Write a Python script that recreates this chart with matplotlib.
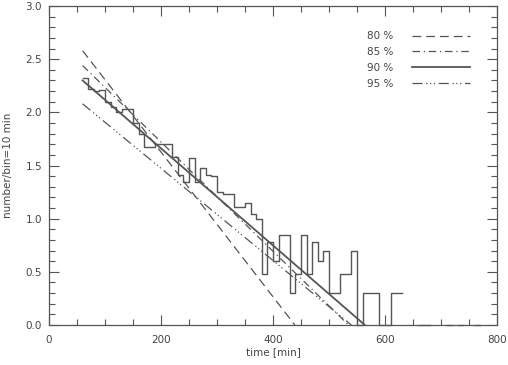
import numpy as np
import matplotlib
matplotlib.use("Agg")
import matplotlib.pyplot as plt
from matplotlib.ticker import MultipleLocator

# histogram: counts per 10-min bin (left edges), plotted as log10(count)
bin_left = np.arange(60, 800, 10)
counts = [209, 166, 158, 162, 126, 112, 100, 107, 107, 79,
          62, 47, 47, 50, 50, 50, 38, 26, 22, 37,
          22, 30, 26, 25, 18, 17, 17, 13, 13, 14,
          11, 10, 3, 6, 4, 7, 7, 2, 3, 7,
          3, 6, 4, 5, 2, 2, 3, 3, 5, 1,
          2, 2, 2, 1, 1, 2, 2, 0, 0, 0,
          1, 1, 0, 0, 0, 1, 0, 1, 0, 0,
          1, 0, 0, 0]
counts = counts + [0] * (len(bin_left) - len(counts))

# fit lines: (start time, start value, end time) -> reach zero at end time
fit_labels = ["80 %", "85 %", "90 %", "95 %"]
fit_t0 = [60, 60, 60, 60]
fit_y0 = [2.58, 2.44, 2.30, 2.08]
fit_t1 = [439, 535, 564, 540]
fit_y1 = [0.0, 0.0, 0.0, 0.0]

fig = plt.figure(figsize=(5.08, 3.65), dpi=100)
ax = fig.add_axes([49 / 508, 40 / 365, 448 / 508, 319 / 365])

c = np.array(counts, dtype=float)
vals = np.full_like(c, np.nan)
vals[c > 0] = np.log10(c[c > 0])
xs = np.append(bin_left, bin_left[-1] + 10)
ys = np.append(vals, vals[-1])
ax.step(xs, ys, where="post", color="#555555", lw=1.0, zorder=4, clip_on=False)

col = "#555555"
styles = [dict(ls=(0, (7, 4)), lw=0.9),
          dict(ls=(0, (6, 3, 1, 3)), lw=0.9),
          dict(ls="-", lw=1.3),
          dict(ls=(0, (8, 3, 1, 2, 1, 2, 1, 3)), lw=0.9)]
handles = []
for lab, t0, y0, t1, y1, st in zip(fit_labels, fit_t0, fit_y0, fit_t1, fit_y1, styles):
    h, = ax.plot([t0, t1], [y0, y1], color=col, **st, label=lab)
    handles.append(h)

ax.set_xlim(0, 800)
ax.set_ylim(0, 3.0)
ax.xaxis.set_major_locator(MultipleLocator(200))
ax.xaxis.set_minor_locator(MultipleLocator(50))
ax.yaxis.set_major_locator(MultipleLocator(0.5))
ax.yaxis.set_minor_locator(MultipleLocator(0.1))
ax.yaxis.set_major_formatter(matplotlib.ticker.FormatStrFormatter("%.1f"))
ax.tick_params(which="both", direction="in", top=True, right=True,
               color="#555555", labelcolor="#444444", labelsize=7.5)
ax.tick_params(which="major", length=7, width=0.8)
ax.tick_params(which="minor", length=4, width=0.8)
ax.tick_params(axis="x", which="major", pad=7)
ax.tick_params(axis="y", which="major", pad=5)
for s in ax.spines.values():
    s.set_color("#555555")
    s.set_linewidth(0.9)

ax.set_xlabel("time [min]", fontsize=7.5, color="#444444", labelpad=2)
ax.set_ylabel("number/bin=10 min", fontsize=7.5, color="#444444", labelpad=9)

leg = ax.legend(handles=handles, loc="upper right", bbox_to_anchor=(0.96, 0.95),
                frameon=False, markerfirst=False, fontsize=7.5,
                handlelength=5.5, handletextpad=1.8, labelspacing=0.55,
                labelcolor="#444444")

fig.savefig("out.png", dpi=100)
